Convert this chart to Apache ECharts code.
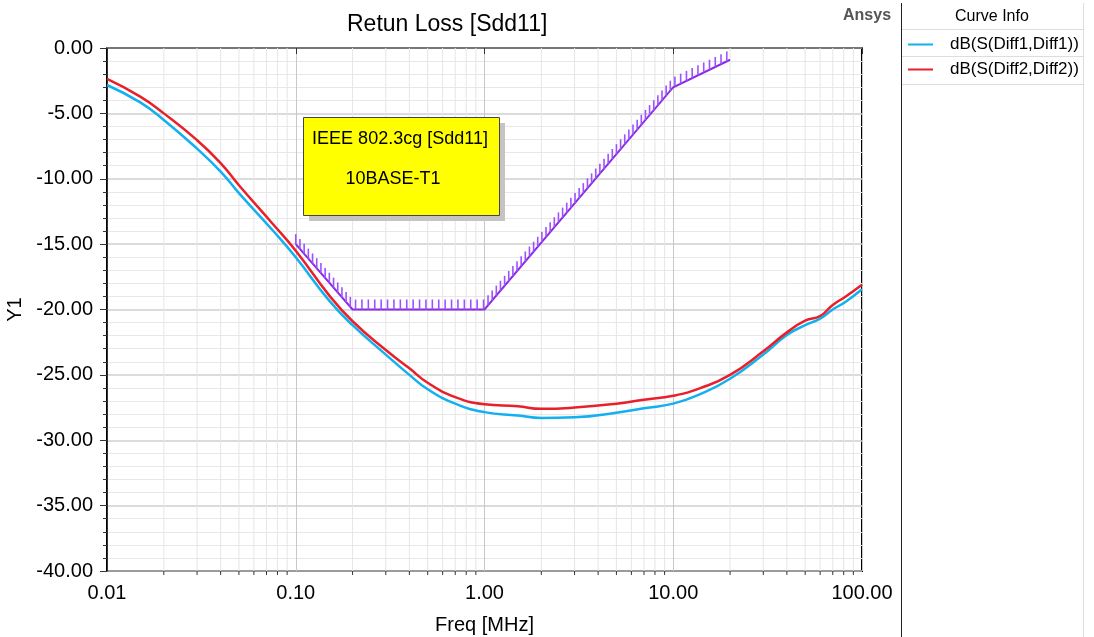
<!DOCTYPE html>
<html>
<head>
<meta charset="utf-8">
<title>Retun Loss [Sdd11]</title>
<script src="https://cdn.jsdelivr.net/npm/echarts@6/dist/echarts.min.js"></script>
<style>
  html, body { margin: 0; padding: 0; background: #fff; }
  #chart { width: 1094px; height: 637px; }
</style>
</head>
<body>
<div id="chart"></div>
<script>
var FONT = 'Liberation Sans, Arial, sans-serif';

// frequency points [MHz]
var freq = [0.01, 0.015, 0.02, 0.03, 0.04, 0.05, 0.075, 0.1, 0.15, 0.2, 0.3, 0.4, 0.5, 0.7,
  1, 1.5, 2, 3, 5, 7, 10, 14, 20, 30, 40, 50, 60, 70, 82, 100];
// dB(S(Diff1,Diff1)) - blue
var diff1 = [-2.83, -4.16, -5.5, -7.7, -9.45, -11.1, -13.9, -16.0, -19.3, -21.2, -23.45, -25.0, -26.1, -27.2,
  -27.85, -28.1, -28.3, -28.25, -27.9, -27.55, -27.2, -26.45, -25.3, -23.45, -21.95, -21.2, -20.7, -20.0, -19.4, -18.45];
// dB(S(Diff2,Diff2)) - red
var diff2 = [-2.37, -3.72, -5.0, -7.05, -8.8, -10.5, -13.4, -15.5, -18.9, -20.9, -23.1, -24.5, -25.6, -26.7,
  -27.25, -27.4, -27.6, -27.5, -27.2, -26.9, -26.6, -26.0, -25.0, -23.2, -21.75, -20.85, -20.5, -19.65, -19.0, -18.1];

// IEEE 802.3cg 10BASE-T1 limit
var limitFreq = [0.1, 0.2, 1, 10, 20];
var limitVal = [-15, -20, -20, -3, -0.9];

// minor grid positions on the log axis
var minorFreqs = [];
[0.01, 0.1, 1, 10].forEach(function (d) {
  for (var k = 2; k <= 9; k++) minorFreqs.push(+(d * k).toPrecision(3));
});

var legendNames = ['dB(S(Diff1,Diff1))', 'dB(S(Diff2,Diff2))'];

function pairs(xs, ys) {
  return xs.map(function (x, i) { return [x, ys[i]]; });
}

// light vertical grid + small ticks for 2..9 of each decade
function renderMinorGrid(params, api) {
  var f = api.value(0);
  var top = api.coord([f, 0]);
  var bot = api.coord([f, -40]);
  return {
    type: 'group',
    children: [
      { type: 'line', shape: { x1: top[0], y1: top[1], x2: bot[0], y2: bot[1] },
        style: { stroke: '#e6e6e6', lineWidth: 1 } },
      { type: 'line', shape: { x1: bot[0], y1: bot[1], x2: bot[0], y2: bot[1] + 4 },
        style: { stroke: '#333', lineWidth: 1 } }
    ]
  };
}

// limit polyline with the hatch marks above it
function renderLimit(params, api) {
  var pts = limitFreq.map(function (f, i) { return api.coord([f, limitVal[i]]); });
  var kids = [{
    type: 'polyline', shape: { points: pts },
    style: { stroke: '#8a2be2', lineWidth: 2, fill: null }
  }];
  var step = 6.4, carry = 0;
  for (var i = 0; i < pts.length - 1; i++) {
    var a = pts[i], b = pts[i + 1];
    var len = Math.sqrt((b[0] - a[0]) * (b[0] - a[0]) + (b[1] - a[1]) * (b[1] - a[1]));
    var d = carry;
    for (; d <= len; d += step) {
      var t = d / len;
      var x = a[0] + t * (b[0] - a[0]);
      var y = a[1] + t * (b[1] - a[1]);
      kids.push({ type: 'line', shape: { x1: x, y1: y, x2: x, y2: y - 10 },
        style: { stroke: '#9d52ff', lineWidth: 1.6 } });
    }
    carry = d - len;
  }
  return { type: 'group', children: kids };
}

var chart = echarts.init(document.getElementById('chart'));

var option = {
  backgroundColor: '#fff',
  animation: false,
  textStyle: { fontFamily: FONT },
  title: {
    text: 'Retun Loss [Sdd11]',
    left: 342, top: 8,
    textStyle: { fontSize: 23, fontWeight: 'normal', color: '#000', fontFamily: FONT }
  },
  legend: {
    data: legendNames,
    orient: 'vertical',
    left: 903, top: 31,
    itemWidth: 25, itemHeight: 2,
    itemGap: 8,
    icon: 'rect',
    textStyle: { fontSize: 17, color: '#000', padding: [0, 0, 0, 12], fontFamily: FONT }
  },
  grid: {
    left: 107, right: 232, top: 48, bottom: 66,
    outerBoundsMode: 'none', containLabel: false,
    show: true, borderColor: '#000', borderWidth: 2, backgroundColor: '#fff'
  },
  xAxis: {
    type: 'log', logBase: 10, min: 0.01, max: 100,
    name: 'Freq [MHz]', nameLocation: 'middle', nameGap: 44,
    nameTextStyle: { fontSize: 20, color: '#000', fontFamily: FONT },
    axisLine: { show: true, lineStyle: { color: '#777', width: 2 } },
    axisTick: { show: true, length: 6, lineStyle: { color: '#333' } },
    axisLabel: {
      fontSize: 20, color: '#000', margin: 12, fontFamily: FONT,
      formatter: function (v) { return v.toFixed(2); }
    },
    splitLine: { show: true, lineStyle: { color: '#c8c8c8', width: 1 } },
    minorTick: { show: false },
    minorSplitLine: { show: false }
  },
  yAxis: {
    type: 'value', min: -40, max: 0, interval: 5,
    name: 'Y1', nameLocation: 'middle', nameGap: 80,
    nameTextStyle: { fontSize: 20, color: '#000', fontFamily: FONT },
    axisLine: { show: true, lineStyle: { color: '#333', width: 1 } },
    axisTick: { show: true, length: 7, lineStyle: { color: '#333' } },
    minorTick: { show: true, splitNumber: 5, length: 4, lineStyle: { color: '#333' } },
    axisLabel: {
      fontSize: 20, color: '#000', margin: 14, fontFamily: FONT,
      formatter: function (v) { return v.toFixed(2); }
    },
    splitLine: { show: true, lineStyle: { color: '#cfcfcf', width: 1.5 } },
    minorSplitLine: { show: true, lineStyle: { color: '#e8e8e8', width: 1 } }
  },
  graphic: [
    { type: 'text', left: 843, top: 8,
      style: { text: 'Ansys', font: 'bold 16px ' + FONT, fill: '#555' } },
    // curve info panel
    { type: 'line', shape: { x1: 901.5, y1: 3, x2: 901.5, y2: 637 }, style: { stroke: '#222', lineWidth: 1 } },
    { type: 'line', shape: { x1: 1083.5, y1: 3, x2: 1083.5, y2: 637 }, style: { stroke: '#ddd', lineWidth: 1 } },
    { type: 'line', shape: { x1: 902, y1: 29.5, x2: 1083, y2: 29.5 }, style: { stroke: '#ddd', lineWidth: 1 } },
    { type: 'line', shape: { x1: 902, y1: 56.5, x2: 1083, y2: 56.5 }, style: { stroke: '#ddd', lineWidth: 1 } },
    { type: 'line', shape: { x1: 902, y1: 84.5, x2: 1083, y2: 84.5 }, style: { stroke: '#ddd', lineWidth: 1 } },
    { type: 'text', left: 955, top: 9,
      style: { text: 'Curve Info', font: '16px ' + FONT, fill: '#000' } },
    // annotation box
    { type: 'rect', shape: { x: 309, y: 123, width: 196, height: 98 },
      style: { fill: '#c4c4c4' }, z: 50 },
    { type: 'rect', shape: { x: 303.5, y: 117.5, width: 196, height: 98 },
      style: { fill: '#ffff00', stroke: '#444', lineWidth: 1 }, z: 51 },
    { type: 'text', x: 400, y: 139, z: 52,
      style: { text: 'IEEE 802.3cg [Sdd11]', font: '18px ' + FONT, fill: '#000',
        textAlign: 'center', textVerticalAlign: 'middle' } },
    { type: 'text', x: 393, y: 179, z: 52,
      style: { text: '10BASE-T1', font: '18px ' + FONT, fill: '#000',
        textAlign: 'center', textVerticalAlign: 'middle' } }
  ],
  series: [
    {
      type: 'custom', name: 'minorGrid', silent: true, z: 1,
      data: minorFreqs.map(function (f) { return [f, 0]; }),
      renderItem: renderMinorGrid, clip: false
    },
    {
      type: 'custom', name: 'limit', silent: true, z: 2,
      data: [[limitFreq[0], limitVal[0]]],
      renderItem: renderLimit, clip: false
    },
    {
      name: legendNames[0], type: 'line', z: 3,
      data: pairs(freq, diff1), smooth: true, showSymbol: false,
      lineStyle: { color: '#12b0f0', width: 2.5 }, itemStyle: { color: '#12b0f0' }
    },
    {
      name: legendNames[1], type: 'line', z: 4,
      data: pairs(freq, diff2), smooth: true, showSymbol: false,
      lineStyle: { color: '#e8202a', width: 2.5 }, itemStyle: { color: '#e8202a' }
    }
  ]
};

chart.setOption(option);
</script>
</body>
</html>
